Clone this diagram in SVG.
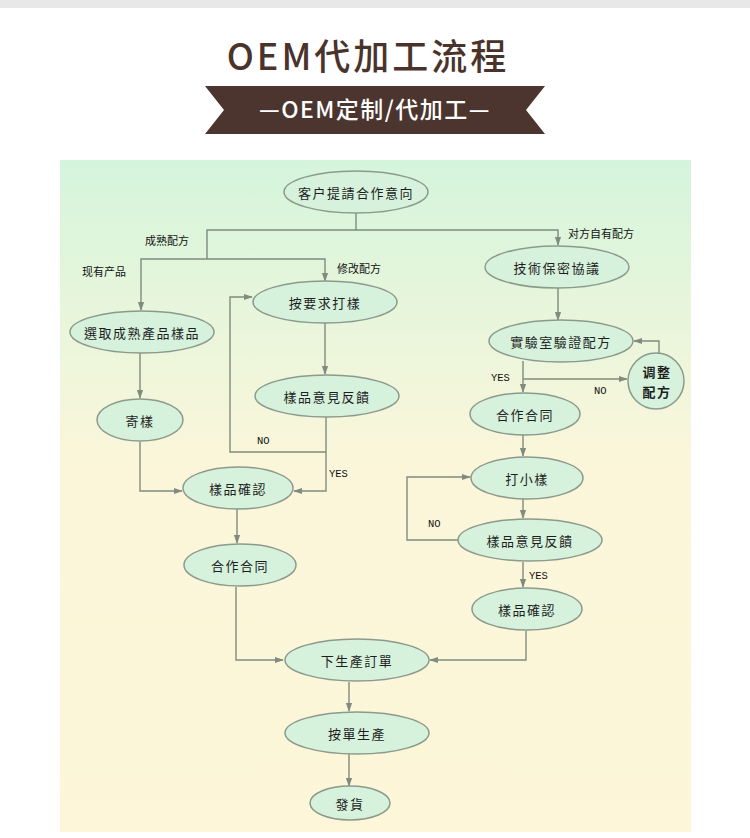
<svg xmlns="http://www.w3.org/2000/svg" width="750" height="838" viewBox="0 0 750 838">
<defs>
<linearGradient id="bg" x1="0" y1="0" x2="0" y2="1">
<stop offset="0" stop-color="#d4f5dc"/>
<stop offset="0.45" stop-color="#fbf6da"/>
<stop offset="1" stop-color="#fdf6d9"/>
</linearGradient>
<marker id="ar" viewBox="0 0 10 10" refX="9" refY="5" markerWidth="9" markerHeight="9" markerUnits="userSpaceOnUse" orient="auto">
<path d="M0,1.5 L10,5 L0,8.5 Z" fill="#7f8c7f"/>
</marker>
<style>
.n{fill:#d6f1dc;stroke:#8c9a8c;stroke-width:1.5}
.t{font-family:"Noto Sans CJK TC","Noto Sans CJK SC",sans-serif;font-size:13px;fill:#1e1e1e;text-anchor:middle;dominant-baseline:central;letter-spacing:1.5px}
.c{fill:none;stroke:#7f8c7f;stroke-width:1.4}
.l{font-family:"Noto Sans CJK SC","Liberation Mono",sans-serif;font-size:11px;fill:#111;dominant-baseline:central}
.m{font-family:"Liberation Mono",monospace;font-size:10.5px;fill:#111;dominant-baseline:central}
</style>
</defs>
<rect x="0" y="0" width="750" height="838" fill="#ffffff"/>
<rect x="0" y="0" width="750" height="8" fill="#e8e8e8"/>
<g id="title">
<text x="368" y="70" font-family="'Noto Sans CJK SC',sans-serif" font-size="36" font-weight="500" fill="#4a332b" text-anchor="middle" letter-spacing="3">OEM代加工流程</text>
</g>
<g id="banner">
<polygon points="205,86 545,86 526,110 545,134 205,134 224,110" fill="#4b352e"/>
<text x="375" y="118" font-family="'Noto Sans CJK SC',sans-serif" font-size="23" font-weight="500" fill="#ffffff" text-anchor="middle" letter-spacing="1.5">—OEM定制/代加工—</text>
</g>
<rect x="60" y="160" width="631" height="672" fill="url(#bg)"/>
<g id="connectors">
<path class="c" d="M356,213 V230"/>
<path class="c" d="M207,259 V230 H558 V245" marker-end="url(#ar)"/>
<path class="c" d="M207,259 H141 V310" marker-end="url(#ar)"/>
<path class="c" d="M207,259 H325 V281" marker-end="url(#ar)"/>
<path class="c" d="M558,288 V320" marker-end="url(#ar)"/>
<path class="c" d="M523,361 V392" marker-end="url(#ar)"/>
<path class="c" d="M523,379 H627" marker-end="url(#ar)"/>
<path class="c" d="M659,353 V341 H634" marker-end="url(#ar)"/>
<path class="c" d="M523,435 V456" marker-end="url(#ar)"/>
<path class="c" d="M523,499 V518" marker-end="url(#ar)"/>
<path class="c" d="M458,540 H407 V477 H470" marker-end="url(#ar)"/>
<path class="c" d="M523,562 V587" marker-end="url(#ar)"/>
<path class="c" d="M526,631 V660 H430" marker-end="url(#ar)"/>
<path class="c" d="M140,353 V398" marker-end="url(#ar)"/>
<path class="c" d="M140,442 V491 H182" marker-end="url(#ar)"/>
<path class="c" d="M325,323 V374" marker-end="url(#ar)"/>
<path class="c" d="M326,417 V491 H294" marker-end="url(#ar)"/>
<path class="c" d="M326,452 H230 V297 H252" marker-end="url(#ar)"/>
<path class="c" d="M237,509 V543" marker-end="url(#ar)"/>
<path class="c" d="M236,587 V660 H283" marker-end="url(#ar)"/>
<path class="c" d="M349,682 V711" marker-end="url(#ar)"/>
<path class="c" d="M349,753 V786" marker-end="url(#ar)"/>
</g>
<g id="labels">
<text class="l" x="145" y="240">成熟配方</text>
<text class="l" x="82" y="271">现有产品</text>
<text class="l" x="337" y="268">修改配方</text>
<text class="l" x="568" y="233">对方自有配方</text>
<text class="m" x="491" y="378">YES</text>
<text class="m" x="594" y="391">NO</text>
<text class="m" x="257" y="441">NO</text>
<text class="m" x="329" y="474">YES</text>
<text class="m" x="428" y="524">NO</text>
<text class="m" x="529" y="576">YES</text>
</g>
<g id="n1"><ellipse class="n" cx="356" cy="192" rx="72" ry="21"/><text class="t" x="356" y="192">客户提請合作意向</text></g>
<g id="n2"><ellipse class="n" cx="557" cy="267" rx="72" ry="21"/><text class="t" x="557" y="267">技術保密協議</text></g>
<g id="n3"><ellipse class="n" cx="561" cy="341" rx="72" ry="21"/><text class="t" x="561" y="341">實驗室驗證配方</text></g>
<g id="n4"><circle class="n" cx="656" cy="381" r="28"/><text class="t" x="657" y="371" font-weight="600">调整</text><text class="t" x="657" y="391" font-weight="600">配方</text></g>
<g id="n5"><ellipse class="n" cx="525" cy="414" rx="55" ry="21"/><text class="t" x="525" y="414">合作合同</text></g>
<g id="n6"><ellipse class="n" cx="325" cy="302" rx="72" ry="21"/><text class="t" x="325" y="302">按要求打樣</text></g>
<g id="n7"><ellipse class="n" cx="142" cy="332" rx="72" ry="21"/><text class="t" x="142" y="332">選取成熟產品樣品</text></g>
<g id="n8"><ellipse class="n" cx="140" cy="420" rx="43" ry="21"/><text class="t" x="140" y="420">寄樣</text></g>
<g id="n9"><ellipse class="n" cx="327" cy="396" rx="72" ry="21"/><text class="t" x="327" y="396">樣品意見反饋</text></g>
<g id="n10"><ellipse class="n" cx="238" cy="488" rx="55" ry="21"/><text class="t" x="238" y="488">樣品確認</text></g>
<g id="n11"><ellipse class="n" cx="240" cy="565" rx="56" ry="21"/><text class="t" x="240" y="565">合作合同</text></g>
<g id="n12"><ellipse class="n" cx="527" cy="478" rx="56" ry="21"/><text class="t" x="527" y="478">打小樣</text></g>
<g id="n13"><ellipse class="n" cx="530" cy="540" rx="72" ry="21"/><text class="t" x="530" y="540">樣品意見反饋</text></g>
<g id="n14"><ellipse class="n" cx="527" cy="609" rx="55" ry="21"/><text class="t" x="527" y="609">樣品確認</text></g>
<g id="n15"><ellipse class="n" cx="357" cy="660" rx="72" ry="21"/><text class="t" x="357" y="660">下生產訂單</text></g>
<g id="n16"><ellipse class="n" cx="357" cy="733" rx="72" ry="21"/><text class="t" x="357" y="733">按單生產</text></g>
<g id="n17"><ellipse class="n" cx="350" cy="803" rx="40" ry="17"/><text class="t" x="350" y="803">發貨</text></g>
</svg>
